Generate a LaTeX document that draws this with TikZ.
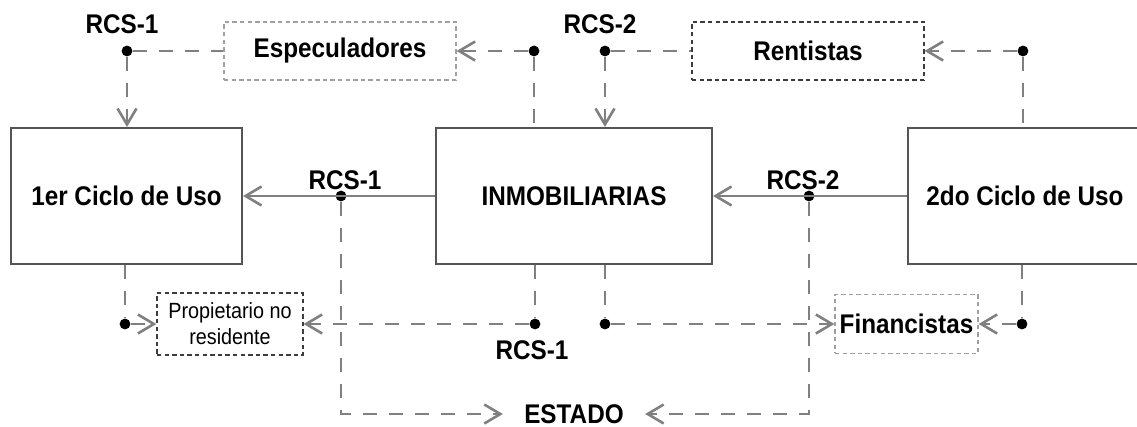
\documentclass[tikz,border=0pt]{standalone}
\usepackage{fontspec}
\setmainfont{Liberation Sans}[FakeStretch=0.9]
\usetikzlibrary{arrows.meta}
\definecolor{linegray}{RGB}{128,128,128}
\definecolor{boxgray}{RGB}{85,85,85}
\definecolor{lightgray}{RGB}{160,160,160}
\definecolor{darkgray}{RGB}{60,60,60}

\begin{document}
\begin{tikzpicture}[x=0.5pt,y=-0.5pt,
    >={Straight Barb[length=8pt,width=9.5pt]},
    bigbox/.style={rectangle,draw=boxgray,line width=1pt,minimum width=115.5pt,minimum height=68pt,inner sep=0pt,font=\bfseries\fontsize{13.5}{16}\selectfont},
    agentbox/.style={rectangle,draw,line width=0.6pt,dash pattern=on 2.2pt off 1.6pt,inner sep=0pt,font=\bfseries\fontsize{13.5}{16}\selectfont},
    smallbox/.style={rectangle,draw=darkgray,line width=0.6pt,dash pattern=on 2.2pt off 1.6pt,inner sep=0pt,align=center,font=\fontsize{11}{13}\selectfont},
    label/.style={inner sep=0pt,font=\bfseries\fontsize{13.5}{16}\selectfont},
    dot/.style={circle,fill=black,inner sep=0pt,minimum size=5.4pt},
    solidarrow/.style={->,draw=linegray,line width=1.3pt},
    dashline/.style={draw=linegray,line width=1.3pt,dash pattern=on 7pt off 6pt},
    dasharrow/.style={dashline,->}]
    \useasboundingbox (0,0) rectangle (1137,427);
    % main boxes
    \node (cycle1) at (126.5,196) [bigbox] {1er Ciclo de Uso};
    \node (inmob)  at (574,196)   [bigbox,minimum width=138pt] {INMOBILIARIAS};
    \node (cycle2) at (1025,196)  [bigbox,minimum width=117pt] {2do Ciclo de Uso};
    % agents
    \node (especuladores) at (340,51)    [agentbox,draw=lightgray,minimum width=116pt,minimum height=29pt] {Especuladores};
    \node (rentistas)     at (808,51)    [agentbox,draw=darkgray,minimum width=116pt,minimum height=29pt] {Rentistas};
    \node (propietario)   at (230,324)   [smallbox,minimum width=73pt,minimum height=31pt] {Propietario no\\residente};
    \node (financistas)   at (906.5,324) [agentbox,draw=lightgray,minimum width=71.5pt,minimum height=29.5pt] {Financistas};
    \node (estado)        at (574,414)   [label,inner xsep=10.5pt] {ESTADO};
    % labels
    \node (rcsA) at (122,24)  [label] {RCS-1};
    \node (rcsC) at (600,24)  [label] {RCS-2};
    \node (rcsE) at (345,180) [label] {RCS-1};
    \node (rcsF) at (803,180) [label] {RCS-2};
    \node (rcsH) at (532,350) [label] {RCS-1};
    % dots
    \node (dotA) at (127,51)  [dot] {};
    \node (dotB) at (534,51)  [dot] {};
    \node (dotC) at (605,51)  [dot] {};
    \node (dotD) at (1023,51) [dot] {};
    \node (dotE) at (341,196) [dot] {};
    \node (dotF) at (809,196) [dot] {};
    \node (dotG) at (125,324) [dot] {};
    \node (dotH) at (535,324) [dot] {};
    \node (dotI) at (605,324) [dot] {};
    \node (dotJ) at (1022,324) [dot] {};
    % main flow
    \draw[solidarrow] (inmob) to (cycle1);
    \draw[solidarrow] (cycle2) to (inmob);
    % top
    \draw[dashline]  (dotA) to (especuladores);
    \draw[dasharrow] (dotA) to (dotA |- cycle1.north);
    \draw[dasharrow] (dotB) to (especuladores);
    \draw[dashline]  (dotB) to (dotB |- inmob.north);
    \draw[dashline]  (dotC) to (rentistas);
    \draw[dasharrow] (dotC) to (dotC |- inmob.north);
    \draw[dasharrow] (dotD) to (rentistas);
    \draw[dashline]  (dotD) to (dotD |- cycle2.north);
    % bottom
    \draw[dashline]  (dotG |- cycle1.south) to (dotG);
    \draw[dasharrow] (dotG) to (propietario);
    \draw[dashline]  (dotH |- inmob.south) to (dotH);
    \draw[dasharrow] (dotH) to (propietario);
    \draw[dashline]  (dotI |- inmob.south) to (dotI);
    \draw[dasharrow] (dotI) to (financistas);
    \draw[dashline]  (dotJ |- cycle2.south) to (dotJ);
    \draw[dasharrow] (dotJ) to (financistas);
    \draw[dasharrow] (dotE) |- (estado);
    \draw[dasharrow] (dotF) |- (estado);
\end{tikzpicture}
\end{document}
